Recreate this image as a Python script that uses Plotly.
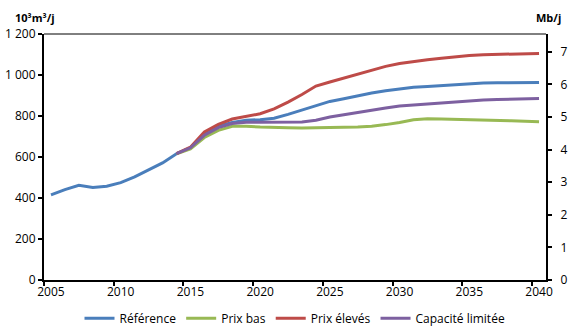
import plotly.graph_objects as go

FONT = "Open Sans"

years = list(range(2005, 2041))
scen_years = list(range(2014, 2041))

reference = [415, 441, 462, 451, 457, 475, 503, 535, 571, 616, 645,
             714, 750, 769, 779, 782, 789, 808, 828, 849, 871,
             884, 899, 912, 923, 933, 940, 944, 949, 954, 957,
             961, 962, 962, 964, 964]

# scenarios branch off in 2014
prix_bas = [616, 640, 695, 730, 750, 750, 746, 743, 743, 742, 742, 742,
            745, 746, 750, 758, 768, 782, 787, 785, 784, 782,
            782, 780, 777, 774, 772]
prix_eleves = [616, 648, 722, 759, 785, 798, 811, 835, 868, 905, 946, 966,
               985, 1006, 1025, 1042, 1056, 1066, 1074, 1082, 1090, 1095,
               1099, 1100, 1102, 1104, 1105]
capacite = [616, 645, 706, 743, 763, 769, 769, 769, 771, 771, 779, 795,
            806, 818, 829, 839, 849, 854, 858, 866, 871, 875,
            878, 880, 881, 883, 885]

y_ticks = [0, 200, 400, 600, 800, 1000, 1200]
y_ticktext = ["0", "200", "400", "600", "800", "1 000", "1 200"]
x_labels = [2005, 2010, 2015, 2020, 2025, 2030, 2035, 2040]
M3_PER_BARREL = 158.987  # 10^3 m3/d per Mb/d

series = [
    ("Référence", years, reference, "#4A7EBB"),
    ("Prix bas", scen_years, prix_bas, "#98B954"),
    ("Prix élevés", scen_years, prix_eleves, "#BE4B48"),
    ("Capacité limitée", scen_years, capacite, "#7D60A0"),
]

fig = go.Figure()
for name, xs, ys, color in series:
    fig.add_trace(go.Scatter(x=xs, y=ys, mode="lines", name=name,
                             line=dict(color=color, width=3)))
# empty trace so the right-hand axis is drawn
fig.add_trace(go.Scatter(x=[], y=[], yaxis="y2", showlegend=False,
                         hoverinfo="skip"))

tick_font = dict(family=FONT, size=12, color="#000000")
fig.update_layout(
    width=580, height=328,
    paper_bgcolor="white", plot_bgcolor="white",
    margin=dict(l=44, r=34, t=34, b=48, autoexpand=False),
    font=dict(family=FONT, size=12, color="#000000"),
    showlegend=True,
    legend=dict(orientation="h", x=0.5, xanchor="center", y=-0.155,
                yanchor="middle", font=dict(family=FONT, size=12),
                itemwidth=30, tracegroupgap=0),
    xaxis=dict(range=[2004.5, 2040.5], tickvals=x_labels, ticks="",
               showgrid=False, zeroline=False, showline=True,
               linecolor="#000000", linewidth=2, tickfont=tick_font,
               automargin=False,
               minor=dict(tickvals=[2004.5 + 5 * k for k in range(8)],
                          ticks="outside", ticklen=4, tickwidth=1.5,
                          tickcolor="#000000", showgrid=False)),
    yaxis=dict(range=[0, 1200], tickvals=y_ticks, ticktext=y_ticktext,
               ticks="outside", ticklen=4, tickwidth=1.5,
               tickcolor="#000000", showgrid=False, zeroline=False,
               showline=True, linecolor="#000000", linewidth=2,
               tickfont=tick_font, automargin=False),
    yaxis2=dict(range=[0, 1200 / M3_PER_BARREL], dtick=1, overlaying="y",
                side="right", ticks="outside", ticklen=4, tickwidth=1.5,
                tickcolor="#000000", showgrid=False, zeroline=False,
                showline=True, linecolor="#000000", linewidth=2,
                tickfont=tick_font, automargin=False,
                ticklabelstandoff=6),
    shapes=[dict(type="line", xref="paper", yref="paper", x0=0, x1=1,
                 y0=1, y1=1, line=dict(color="#000000", width=1))],
    annotations=[
        dict(text="<b>10³m³/j</b>", xref="paper", yref="paper",
             x=-0.062, y=1.068, xanchor="left", yanchor="middle",
             showarrow=False, font=dict(family=FONT, size=11)),
        dict(text="<b>Mb/j</b>", xref="paper", yref="paper",
             x=1.004, y=1.068, xanchor="center", yanchor="middle",
             showarrow=False, font=dict(family=FONT, size=11)),
    ],
)

# drop the browser's default body margin so the figure sits at the corner
fig.write_html("out.html", config={"displayModeBar": False},
               post_script="document.body.style.margin='0';")
